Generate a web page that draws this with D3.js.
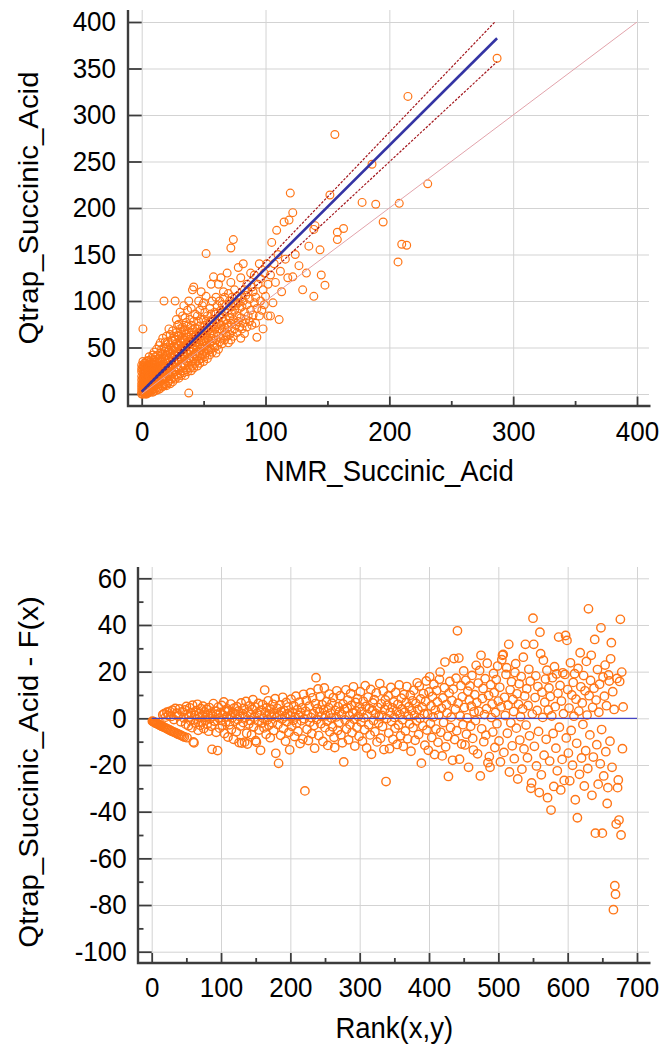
<!DOCTYPE html>
<html><head><meta charset="utf-8">
<script src="https://cdn.jsdelivr.net/npm/d3@7"></script>
<style>
html,body{margin:0;padding:0;background:#fff;}
svg{display:block;}
</style></head><body>
<svg id="c" width="662" height="1044"></svg>
<script>
// ---------- DATA ----------
// Top panel: [NMR_Succinic_Acid, Qtrap_Succinic_Acid] pairs
const scatterPairs = [
[0,2],[0,8],[0,15],[0,24],[0,31],[1,0],[1,5],[1,11],[1,18],[1,27],[1,35],[1,70],[2,3],[2,9],[2,14],[2,21],[2,29],[2,1],[3,6],[3,12],[3,17],[3,25],[3,33],[3,0],[4,4],[4,10],[4,16],[4,22],[4,30],[4,2],[0,5],[1,13],[2,19],[3,9],[4,13],[0,11],[1,22],[2,26],[3,20],[4,26],[0,19],[1,8],[2,6],[3,3],[4,7],[1,3],[2,11],[3,14],[4,19],[0,27],[2,33],[3,28],[1,16],[4,35],[2,24],[0,0],[3,1],[1,30],[4,0],[2,16],
[5,1],[5,7],[5,13],[5,20],[5,28],[5,36],[6,3],[6,10],[6,16],[6,23],[6,31],[6,40],[7,2],[7,8],[7,14],[7,19],[7,26],[7,34],[8,4],[8,11],[8,17],[8,22],[8,29],[8,38],[9,5],[9,12],[9,18],[9,25],[9,32],[9,42],[5,16],[6,6],[7,22],[8,14],[9,9],[5,24],[6,19],[7,11],[8,26],[9,21],[5,4],[6,27],[7,30],[8,7],[9,28],[5,10],[6,13],[7,17],[8,33],[9,15],[6,36],[7,5],[8,20],[9,2],[5,32],
[10,3],[10,9],[10,15],[10,21],[10,28],[10,36],[10,45],[11,6],[11,12],[11,18],[11,25],[11,31],[11,40],[12,4],[12,10],[12,16],[12,22],[12,29],[12,35],[12,48],[13,7],[13,13],[13,19],[13,26],[13,33],[13,42],[14,5],[14,11],[14,17],[14,24],[14,30],[14,38],[14,52],[10,18],[11,22],[12,26],[13,16],[14,20],[11,34],[13,23],[12,19],[10,24],[13,38],
[15,6],[15,13],[15,20],[15,27],[15,35],[15,44],[15,55],[16,9],[16,16],[16,23],[16,30],[16,38],[16,48],[17,8],[17,15],[17,22],[17,28],[17,36],[17,43],[17,60],[18,11],[18,18],[18,25],[18,32],[18,40],[18,50],[18,100],[19,10],[19,17],[19,24],[19,30],[19,38],[19,46],[19,56],
[20,9],[20,17],[20,25],[20,33],[20,41],[20,50],[20,62],[21,12],[21,20],[21,28],[21,36],[21,45],[21,56],[22,14],[22,22],[22,30],[22,38],[22,47],[22,70],[23,11],[23,19],[23,27],[23,35],[23,43],[23,53],[23,64],[24,16],[24,24],[24,32],[24,40],[24,49],[24,58],
[25,13],[25,22],[25,30],[25,38],[25,47],[25,57],[25,68],[26,18],[26,26],[26,34],[26,42],[26,51],[26,62],[27,16],[27,24],[27,33],[27,41],[27,49],[27,59],[27,100],[28,21],[28,29],[28,37],[28,45],[28,54],[28,66],[28,80],[29,19],[29,28],[29,36],[29,44],[29,52],[29,63],[29,74],
[30,17],[30,26],[30,35],[30,43],[30,52],[30,62],[30,75],[31,22],[31,40],[31,48],[31,57],[31,70],[31,88],[32,20],[32,29],[32,38],[32,46],[32,55],[32,66],[33,25],[33,43],[33,51],[33,60],[33,72],[33,84],[34,23],[34,32],[34,41],[34,49],[34,58],[34,68],[34,95],
[35,20],[35,30],[35,40],[35,49],[35,58],[35,69],[35,82],[36,26],[36,36],[36,45],[36,54],[36,64],[36,77],[37,24],[37,34],[37,43],[37,52],[37,61],[37,73],[37,90],[38,1],[38,30],[38,39],[38,48],[38,57],[38,67],[38,100],[39,28],[39,38],[39,47],[39,56],[39,80],
[40,25],[40,35],[40,45],[40,54],[40,63],[40,74],[40,92],[41,30],[41,40],[41,50],[41,59],[41,69],[41,112],[42,28],[42,38],[42,48],[42,57],[42,66],[42,78],[42,115],[43,33],[43,43],[43,52],[43,61],[43,71],[43,86],[44,35],[44,45],[44,55],[44,64],
[45,30],[45,40],[45,50],[45,60],[45,70],[45,84],[46,36],[46,46],[46,56],[46,66],[46,78],[46,100],[47,33],[47,43],[47,53],[47,62],[47,73],[47,90],[48,38],[48,48],[48,58],[48,68],[48,80],[48,110],[49,42],[49,52],[49,63],[49,95],
[50,35],[50,46],[50,57],[50,68],[50,80],[50,98],[51,40],[51,51],[51,62],[51,74],[51,88],[52,151],[52,44],[52,56],[52,66],[52,78],[52,105],[53,38],[53,49],[53,60],[53,71],[53,84],[54,47],[54,58],[54,69],
[55,42],[55,54],[55,65],[55,77],[55,92],[56,48],[56,60],[56,72],[56,86],[56,118],[57,45],[57,57],[57,68],[57,80],[57,100],[58,52],[58,63],[58,75],[58,126],[59,50],[59,70],[59,88],
[60,44],[60,58],[60,72],[60,86],[60,104],[61,52],[61,66],[61,80],[61,95],[62,48],[62,62],[62,76],[62,118],[63,56],[63,70],[63,84],[63,100],[64,60],[64,74],[64,90],[64,125],[65,54],[65,68],[65,82],[65,96],[66,63],[66,78],[66,110],[67,58],[67,72],[67,88],[67,104],[68,66],[68,80],[68,95],[69,62],[69,76],[69,130],
[70,55],[70,72],[70,90],[70,108],[71,64],[71,82],[71,100],[72,157],[72,58],[72,76],[72,94],[72,120],[73,68],[73,86],[73,104],[74,166],[74,62],[74,80],[74,98],[75,70],[75,90],[75,112],[76,74],[76,95],[77,66],[77,84],[77,105],[78,78],[78,98],[78,136],[79,72],[79,92],
[80,60],[80,82],[80,104],[80,125],[81,70],[81,94],[82,76],[82,100],[82,140],[83,65],[83,88],[83,112],[84,80],[84,106],[85,72],[85,96],[85,118],[86,84],[86,110],[87,78],[87,102],[88,90],[88,130],[89,74],[89,115],
[90,85],[90,110],[91,98],[91,128],[92,76],[92,104],[93,61],[93,92],[94,118],[95,84],[95,140],[96,100],[96,124],[97,90],[98,112],[98,70],[99,130],[99,96],
[100,105],[101,140],[102,84],[102,118],[104,84],[104,128],[105,163],[106,98],[107,140],[108,120],[109,176],[110,150],[111,80],[112,132],[113,110],[115,185],[116,145],[118,125],[119,187],[120,216],
[122,195],[122,126],[124,150],[127,138],[130,112],[133,130],[135,159],[139,177],[140,181],[139,105],[144,155],[145,128],[148,117],[152,214],
[156,279],[158,174],[163,178],[158,166],[178,206],[186,247],[189,204],[195,185],[208,205],[207,142],[210,161],[214,160],[215,320],[231,226],[287,361]
];

// Passing-Bablok style fit and its confidence limits: [intercept, slope]
const fitCoef = [2.5, 1.324];
const ciUpperCoef = [3.0, 1.392];
const ciLowerCoef = [2.0, 1.238];
const fitRange = [0, 287];
const identityRange = [0, 400];

// Bottom panel: residuals (Qtrap - F(x)) in order of Rank(x,y) = 1..N
const residuals = [
-1.2,-1.4,-1.5,-1.7,-1.9,-2.0,-2.2,-2.3,-2.5,-2.6,-2.8,-3.0,-3.1,-3.3,-3.4,1.5,-3.7,2.0,-4.0,0.5,
-4.3,2.6,-4.6,1.2,-4.9,3.0,-5.2,0.8,-5.5,3.5,-5.8,-0.5,-6.0,4.2,-6.3,2.2,-6.6,1.0,-6.9,4.0,
-7.1,-1.5,-7.4,2.8,-7.7,0.2,-8.0,3.6,-2.5,5.1,-8.3,1.8,-3.2,0.6,4.5,-1.0,2.4,-4.0,5.6,-10.1,
-10.5,1.2,-2.0,3.3,-0.4,6.0,-5.1,2.0,0.4,-3.0,4.1,-1.6,1.0,5.2,-4.4,2.7,-0.8,0.3,3.9,-2.6,
1.5,-5.5,4.6,-0.2,2.2,-3.4,-13.3,0.9,6.3,-1.2,-1.2,3.0,-6.0,1.7,-13.8,4.8,0.1,-4.2,2.5,-0.9,
5.5,-3.0,1.4,7.0,-6.5,2.9,-1.5,0.7,4.0,-8.0,3.2,-2.8,1.1,6.1,-4.8,0.2,2.6,-9.0,4.4,-1.2,
1.9,-5.8,5.0,-0.5,3.1,-10.4,0.8,-3.3,6.6,-10.6,2.0,-1.8,4.3,-10.2,0.3,7.2,-6.4,-11.0,2.7,-2.4,
5.3,-0.9,1.6,-7.0,3.8,8.0,-3.6,0.5,4.9,-9.6,-10.2,2.2,-1.1,6.4,-5.0,1.3,-13.7,3.5,-2.0,5.9,
0.0,-4.1,12.1,2.4,-6.8,4.6,-0.6,7.5,-3.0,1.8,-8.3,3.9,0.9,-1.9,6.0,-5.2,2.1,8.4,-15.0,0.4,
4.3,-2.7,-19.3,1.5,5.7,-7.3,2.9,-0.3,9.0,-4.4,3.3,0.7,-9.8,6.8,-1.5,2.0,4.8,-6.0,-13.5,1.0,
8.2,-3.4,2.6,-0.8,5.4,-7.8,0.6,9.5,-2.1,3.7,-5.5,1.2,6.9,-10.8,2.4,-1.0,4.5,-8.9,10.3,-0.2,
-31.1,3.0,7.6,-4.7,1.4,-9.5,5.2,-1.7,11.0,0.3,-6.6,8.8,2.0,-3.1,-12.8,6.3,17.4,-0.5,4.1,12.6,
-7.4,2.7,9.3,-2.3,0.9,5.8,-9.9,3.6,13.0,-4.0,1.1,7.1,-1.3,-11.6,4.7,10.4,-5.8,2.2,0.1,6.5,
-3.6,8.9,-8.1,-12.5,3.3,0.6,11.8,-5.2,5.0,-1.9,2.8,9.7,-7.0,1.5,-10.5,6.1,-18.7,3.9,-0.7,12.2,
-4.6,4.4,7.8,-9.2,1.0,-2.6,10.6,5.5,-6.2,2.3,13.5,-0.4,-11.9,6.8,3.1,-3.8,8.4,0.8,-7.7,4.9,
11.4,-1.6,2.9,-9.8,7.3,0.2,-4.9,14.0,5.1,-12.7,1.7,9.1,-2.8,4.2,-7.1,12.4,-15.4,3.4,6.6,-0.9,
8.0,-5.7,2.1,10.9,-10.1,4.7,-2.0,0.7,14.9,-8.5,6.2,1.2,-3.5,11.7,-13.4,3.8,7.9,-27.1,-0.1,5.6,
9.6,-6.3,-13.0,2.5,13.2,-1.4,4.5,-9.0,7.0,0.4,-4.2,11.1,3.0,-11.2,6.0,-2.9,14.3,1.6,-7.5,8.6,
4.0,-0.6,-12.0,10.2,2.6,-5.4,6.7,13.6,-8.8,0.9,5.0,-2.4,9.9,-14.1,3.2,7.5,-4.0,12.0,1.3,-9.4,
6.4,-1.1,15.2,3.7,-6.9,13.8,0.0,8.3,-19.2,4.8,-3.2,10.6,2.0,-11.5,7.2,16.0,-5.0,1.9,-13.7,11.3,
17.8,-2.2,5.3,-8.2,9.4,0.6,14.6,-15.5,3.5,-4.6,11.9,7.0,-10.3,1.4,16.7,19.8,-6.0,4.3,-16.1,8.7,
-1.8,13.1,24.1,-12.2,5.9,2.3,-7.7,-24.9,10.8,15.8,-3.9,0.5,7.6,-18.0,12.5,25.6,-9.1,3.9,17.2,-5.3,
37.5,6.5,25.8,-17.5,1.0,14.0,-11.0,9.2,-2.7,20.3,4.6,-11.4,16.3,-6.8,0.2,11.6,-21.0,7.9,13.9,-3.4,
5.2,18.4,-8.6,-13.6,2.8,10.1,-1.0,22.7,6.8,-15.2,15.1,3.0,20.5,-24.7,27.0,-4.5,8.5,12.8,-10.0,1.6,
17.0,-7.2,4.1,23.6,-19.0,9.8,-16.4,-21.0,14.4,0.3,6.1,-5.9,19.2,11.0,-12.5,2.5,16.6,-2.3,22.4,7.4,
-9.7,13.3,-18.7,4.9,25.1,27.0,27.4,-14.6,9.0,1.2,18.8,21.7,-6.4,5.6,31.7,-23.0,12.2,-1.9,15.7,-11.8,
8.1,2.9,-17.3,19.6,23.4,-4.2,10.5,-26.0,6.0,14.8,-9.3,0.7,17.9,-21.8,4.0,26.2,-13.1,9.6,31.7,-2.9,
12.7,-16.9,5.5,21.0,-7.5,15.9,-30.0,-27.7,1.8,42.9,31.7,-12.0,8.9,18.2,-20.4,3.4,13.6,-5.6,-31.8,36.9,
27.7,-24.2,11.2,0.4,24.9,-15.8,6.9,16.8,-9.0,20.6,-34.0,3.6,13.0,-18.3,9.3,-39.3,1.0,17.4,-6.5,-29.2,
22.1,5.0,-12.8,19.0,-22.5,10.7,34.8,-3.8,14.1,-30.7,7.4,-17.6,19.5,2.0,-26.6,18.8,35.5,-8.4,33.4,12.3,
-14.9,4.4,-26.8,23.8,-5.2,10.0,-20.1,15.4,0.9,19.1,-34.9,8.2,-10.7,-42.6,21.4,3.1,-24.0,28.1,13.5,-17.0,
6.6,-2.6,18.3,-29.0,11.8,-13.9,24.4,1.4,-21.5,46.9,9.7,-7.1,16.2,27.0,-33.0,4.7,-16.6,12.9,33.8,-49.2,
7.8,-11.3,20.9,-28.2,2.6,14.6,-19.5,38.8,-4.8,-49.2,17.7,-24.7,9.5,22.8,-14.3,5.4,-36.5,-29.7,18.6,16.0,
-9.8,25.5,32.4,-21.0,11.4,-82.0,3.8,-71.7,-75.4,-45.3,17.1,-29.7,-26.4,-43.6,15.8,42.4,-50.0,19.8,-13.0,4.9
];

// Tick values
const topXTicks = [0, 100, 200, 300, 400];
const topXMinor = [50, 150, 250, 350];
const topYTicks = [0, 50, 100, 150, 200, 250, 300, 350, 400];
const botXTicks = [0, 100, 200, 300, 400, 500, 600, 700];
const botXMinor = [50, 150, 250, 350, 450, 550, 650];
const botYTicks = [-100, -80, -60, -40, -20, 0, 20, 40, 60];
const botYMinor = [-90, -70, -50, -30, -10, 10, 30, 50];

// Titles
const topXTitle = "NMR_Succinic_Acid";
const topYTitle = "Qtrap_Succinic_Acid";
const botXTitle = "Rank(x,y)";
const botYTitle = "Qtrap_Succinic_Acid - F(x)";

// ---------- DRAW ----------
const FONT = '"Liberation Sans", Arial, Helvetica, sans-serif';
const axisColor = "#3c3c3c";
const gridColor = "#d3d3d3";
const dotColor = "#ff7516";
const svg = d3.select("#c");
const plainFormat = d => String(d);   // ASCII hyphen for negatives, as in the source

function panel(cfg) {
  const L = cfg.box;
  const g = svg.append("g");
  const x = d3.scaleLinear().domain(cfg.xDomain).range(cfg.xRange);
  const y = d3.scaleLinear().domain(cfg.yDomain).range(cfg.yRange);

  // grid
  const gx = g.append("g").attr("transform", `translate(0,${L.plotBottom})`)
    .call(d3.axisBottom(x).tickValues(cfg.xTicks).tickSize(-(L.plotBottom - L.plotTop)).tickFormat(""));
  gx.select(".domain").remove();
  gx.selectAll("line").attr("stroke", gridColor).attr("stroke-width", 1);
  const gy = g.append("g").attr("transform", `translate(${L.plotLeft},0)`)
    .call(d3.axisLeft(y).tickValues(cfg.yTicks).tickSize(-(L.plotRight - L.plotLeft)).tickFormat(""));
  gy.select(".domain").remove();
  gy.selectAll("line").attr("stroke", gridColor).attr("stroke-width", 1);

  // axes ticks (inward, spanning gap between axis line and plot area)
  const yAx = g.append("g").attr("transform", `translate(${L.axisX},0)`)
    .call(d3.axisLeft(y).tickValues(cfg.yTicks).tickFormat(plainFormat).tickSizeInner(-(L.plotLeft - L.axisX)).tickSizeOuter(0).tickPadding(cfg.yPad));
  const yMin = g.append("g").attr("transform", `translate(${L.axisX},0)`)
    .call(d3.axisLeft(y).tickValues(cfg.yMinor).tickSizeInner(-5.5).tickSizeOuter(0).tickFormat(""));
  const xAx = g.append("g").attr("transform", `translate(0,${L.axisY})`)
    .call(d3.axisBottom(x).tickValues(cfg.xTicks).tickFormat(plainFormat).tickSizeInner(-(L.axisY - L.plotBottom)).tickSizeOuter(0).tickPadding(cfg.xPad));
  const xMin = g.append("g").attr("transform", `translate(0,${L.axisY})`)
    .call(d3.axisBottom(x).tickValues(cfg.xMinor).tickSizeInner(-5).tickSizeOuter(0).tickFormat(""));
  [yAx, yMin, xAx, xMin].forEach(a => {
    a.select(".domain").remove();
    a.selectAll("line").attr("stroke", axisColor).attr("stroke-width", 1.8);
    a.selectAll("text").attr("font-size", 26).attr("font-family", FONT).attr("fill", "#000")
      .attr("transform", "scale(1,1.05)");
  });

  // axis lines
  g.append("path")
    .attr("d", `M${L.axisX},${L.plotTop}V${L.axisY}H${L.axisRight}`)
    .attr("fill", "none").attr("stroke", axisColor).attr("stroke-width", 2.4);

  // titles
  g.append("text").text(cfg.xTitle)
    .attr("transform", `translate(${(L.axisX + L.axisRight) / 2},${cfg.xTitleY}) scale(1,1.07)`)
    .attr("text-anchor", "middle").attr("font-family", FONT).attr("font-size", 27.5).attr("fill", "#000");
  g.append("text").text(cfg.yTitle)
    .attr("transform", `translate(${cfg.yTitleX},${cfg.yTitleCY}) scale(1,1.07) rotate(-90)`)
    .attr("text-anchor", "middle").attr("font-family", FONT).attr("font-size", 27.5).attr("fill", "#000");

  return { g, x, y };
}

// ----- top panel -----
const topP = panel({
  box: { axisX: 128, plotLeft: 141.7, plotRight: 649, plotTop: 10, plotBottom: 396.5, axisY: 406, axisRight: 650.5 },
  xDomain: [0, 400], xRange: [141.7, 637],
  yDomain: [0, 400], yRange: [394, 22],
  xTicks: topXTicks, xMinor: topXMinor, yTicks: topYTicks, yMinor: [],
  xPad: 15, yPad: 12,
  xTitle: topXTitle, yTitle: topYTitle, xTitleY: 481, yTitleX: 37.5, yTitleCY: 208
});

topP.g.append("g").selectAll("circle").data(scatterPairs).join("circle")
  .attr("cx", d => topP.x(d[0])).attr("cy", d => topP.y(d[1])).attr("r", 3.9)
  .attr("fill", "none").attr("stroke", dotColor).attr("stroke-width", 1.2);

svg.append("clipPath").attr("id", "clipTop").append("rect")
  .attr("x", 0).attr("y", topP.y(400)).attr("width", 662).attr("height", topP.y(0) - topP.y(400) + 20);

const linesG = topP.g.append("g").attr("clip-path", "url(#clipTop)");
const lineFor = coef => d3.line().x(v => topP.x(v)).y(v => topP.y(coef[0] + coef[1] * v));
linesG.append("path").datum(identityRange)
  .attr("d", lineFor([0, 1])).attr("fill", "none").attr("stroke", "#e2a3ab").attr("stroke-width", 1);
linesG.append("path").datum(fitRange)
  .attr("d", lineFor(ciUpperCoef)).attr("fill", "none").attr("stroke", "#a3161c").attr("stroke-width", 1.2).attr("stroke-dasharray", "2.5,1.5");
linesG.append("path").datum(fitRange)
  .attr("d", lineFor(ciLowerCoef)).attr("fill", "none").attr("stroke", "#a3161c").attr("stroke-width", 1.2).attr("stroke-dasharray", "2.5,1.5");
linesG.append("path").datum(fitRange)
  .attr("d", lineFor(fitCoef)).attr("fill", "none").attr("stroke", "#3434a4").attr("stroke-width", 2.6);

// ----- bottom panel -----
const botP = panel({
  box: { axisX: 138, plotLeft: 151.7, plotRight: 649, plotTop: 567, plotBottom: 953, axisY: 963, axisRight: 650.5 },
  xDomain: [0, 700], xRange: [151.7, 637],
  yDomain: [-100, 60], yRange: [951.7, 578.3],
  xTicks: botXTicks, xMinor: botXMinor, yTicks: botYTicks, yMinor: botYMinor,
  xPad: 14, yPad: 11.3,
  xTitle: botXTitle, yTitle: botYTitle, xTitleY: 1038, yTitleX: 37.5, yTitleCY: 772
});

botP.g.append("g").selectAll("circle").data(residuals).join("circle")
  .attr("cx", (d, i) => botP.x(i + 1)).attr("cy", d => botP.y(d)).attr("r", 4.2)
  .attr("fill", "none").attr("stroke", dotColor).attr("stroke-width", 1.4);

botP.g.append("path").datum([0, 700])
  .attr("d", d3.line().x(v => botP.x(v)).y(() => botP.y(0)))
  .attr("fill", "none").attr("stroke", "#4444c4").attr("stroke-width", 1.3);
</script>
</body></html>
